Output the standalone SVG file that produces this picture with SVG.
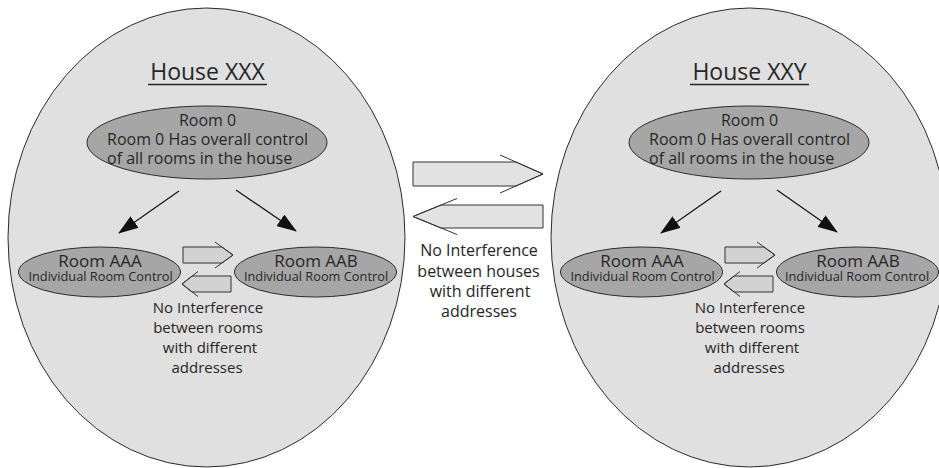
<svg xmlns="http://www.w3.org/2000/svg" width="939" height="468" viewBox="0 0 939 468">
<style>
text{font-family:"Open Sans","Noto Sans","Liberation Sans",sans-serif;fill:#262626}
.house{fill:#e0e0e0;stroke:#2b2b2b;stroke-width:1}
.room{fill:#a6a6a6;stroke:#2b2b2b;stroke-width:1}
.blk{fill:#d2d2d2;stroke:#333;stroke-width:1}
.big{fill:#e2e2e2;stroke:#333;stroke-width:1}
.wing{fill:none;stroke:#333;stroke-width:1}
.conn{stroke:#111;stroke-width:1.2;fill:none;marker-end:url(#ah)}
.title{font-size:23px;text-anchor:middle}
.r0{font-size:16px}
.rn{font-size:17px;text-anchor:middle}
.sub{font-size:12.8px;text-anchor:middle}
.note{font-size:15px;text-anchor:middle}
.mid{font-size:16px;text-anchor:middle}
</style>
<defs>
<marker id="ah" viewBox="0 0 20 14" refX="19" refY="7" markerWidth="20" markerHeight="14" markerUnits="userSpaceOnUse" orient="auto">
<path d="M0,0 L20,7 L0,14 z" fill="#111"/>
</marker>
</defs>

<g id="house-xxx">
<ellipse class="house" cx="206.5" cy="237.5" rx="198.5" ry="229.5"/>
<text class="title" x="207.5" y="80">House XXX</text>
<line x1="148" y1="84.5" x2="267" y2="84.5" stroke="#262626" stroke-width="1.5"/>
</g>
<g id="house-xxy">
<ellipse class="house" cx="749.5" cy="237.5" rx="198.5" ry="229.5"/>
<text class="title" x="749.5" y="80">House XXY</text>
<line x1="690" y1="84.5" x2="809" y2="84.5" stroke="#262626" stroke-width="1.5"/>
</g>

<g id="room0-xxx">
<ellipse class="room" cx="207" cy="142.5" rx="120" ry="36.5"/>
<text class="r0" x="207.5" y="126" text-anchor="middle">Room 0</text>
<text class="r0" x="107" y="145">Room 0 Has overall control</text>
<text class="r0" x="107" y="164">of all rooms in the house</text>
</g>
<g id="room0-xxy">
<ellipse class="room" cx="749" cy="142.5" rx="120" ry="36.5"/>
<text class="r0" x="749.5" y="126" text-anchor="middle">Room 0</text>
<text class="r0" x="649" y="145">Room 0 Has overall control</text>
<text class="r0" x="649" y="164">of all rooms in the house</text>
</g>

<g id="roomaaa-xxx">
<ellipse class="room" cx="99.5" cy="272" rx="81" ry="25"/>
<text class="rn" x="100" y="266.5">Room AAA</text>
<text class="sub" x="100.5" y="281">Individual Room Control</text>
</g>
<g id="roomaab-xxx">
<ellipse class="room" cx="315.5" cy="272" rx="81" ry="25"/>
<text class="rn" x="316" y="266.5">Room AAB</text>
<text class="sub" x="316" y="281">Individual Room Control</text>
</g>
<g id="roomaaa-xxy">
<ellipse class="room" cx="641.5" cy="272" rx="81" ry="25"/>
<text class="rn" x="642" y="266.5">Room AAA</text>
<text class="sub" x="642.5" y="281">Individual Room Control</text>
</g>
<g id="roomaab-xxy">
<ellipse class="room" cx="857.5" cy="272" rx="81" ry="25"/>
<text class="rn" x="858" y="266.5">Room AAB</text>
<text class="sub" x="857" y="281">Individual Room Control</text>
</g>

<g id="note-rooms-xxx">
<text class="note" x="208" y="313">No Interference</text>
<text class="note" x="208" y="333">between rooms</text>
<text class="note" x="210" y="353">with different</text>
<text class="note" x="207" y="373">addresses</text>
</g>
<g id="note-rooms-xxy">
<text class="note" x="750" y="313">No Interference</text>
<text class="note" x="750" y="333">between rooms</text>
<text class="note" x="752" y="353">with different</text>
<text class="note" x="749" y="373">addresses</text>
</g>
<g id="note-houses">
<text class="mid" x="479" y="256">No Interference</text>
<text class="mid" x="478.5" y="276.5">between houses</text>
<text class="mid" x="480" y="297">with different</text>
<text class="mid" x="479" y="317">addresses</text>
</g>

<g id="connectors">
<line class="conn" x1="179" y1="191" x2="119" y2="233"/>
<line class="conn" x1="236" y1="190" x2="296" y2="231"/>
<line class="conn" x1="721" y1="191" x2="661" y2="233"/>
<line class="conn" x1="777" y1="190" x2="837" y2="232"/>

<polygon class="blk" points="183,247 222,247 233,255 222,263 183,263"/>
<polyline class="wing" points="215,242 233,255 215,268"/>
<polygon class="blk" points="231,276 192,276 182,284 192,292 231,292"/>
<polyline class="wing" points="198,271.5 182,284 198,296.5"/>

<polygon class="blk" points="725,247 764,247 775,255 764,263 725,263"/>
<polyline class="wing" points="757,242 775,255 757,268"/>
<polygon class="blk" points="773,276 734,276 724,284 734,292 773,292"/>
<polyline class="wing" points="740,271.5 724,284 740,296.5"/>

<polygon class="big" points="413,162 516,162 543,174 516,186 413,186"/>
<polyline class="wing" points="500,155 543,174 500,193"/>
<polygon class="big" points="543,205 441,205 413,216.5 441,228 543,228"/>
<polyline class="wing" points="457,198.5 413,216.5 457,234.5"/>
</g>
</svg>
